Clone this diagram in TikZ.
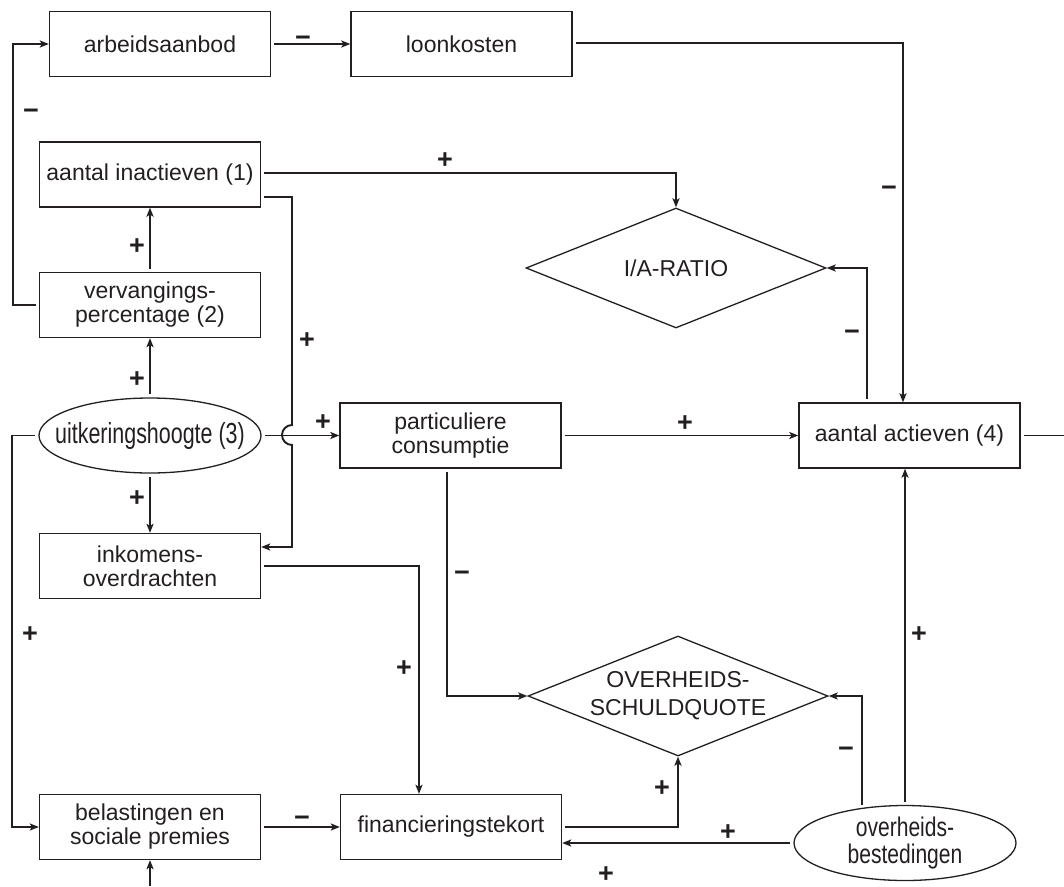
\documentclass[tikz,border=0pt]{standalone}
\usepackage{fontspec}
\setmainfont{Liberation Sans}
\newfontfamily\narrowfont[FakeStretch=0.74]{Liberation Sans}
\newfontfamily\narrowfontb[FakeStretch=0.78]{Liberation Sans}
\usetikzlibrary{shapes.geometric,arrows.meta}
\definecolor{ink}{RGB}{35,31,32}
\tikzset{
  box/.style={draw=ink, text=ink, line width=1.3pt, minimum width=221pt, minimum height=65pt,
    align=center, inner sep=0pt, font=\fontsize{23}{24}\selectfont},
  oval/.style={draw=ink, text=ink, ellipse, line width=1.3pt, minimum width=222pt, minimum height=75pt,
    inner xsep=-40pt, inner ysep=-8pt, align=center, font=\narrowfont\fontsize{29}{25}\selectfont},
  ruit/.style={draw=ink, text=ink, diamond, aspect=2.5, line width=1.3pt, minimum width=300pt, minimum height=120pt,
    inner sep=0pt, align=center, font=\fontsize{23}{28}\selectfont},
  conn/.style={draw=ink, line width=1.9pt, shorten <=3pt},
  arr/.style={conn, -{Stealth[length=9pt,width=7pt,inset=2pt]}},
  sign/.style={text=ink, inner sep=0pt, anchor=base, yshift=-9pt, font=\bfseries\fontsize{27}{27}\selectfont}
}
\begin{document}
\begin{tikzpicture}[x=1pt,y=-1pt]
\useasboundingbox (0,0) rectangle (1064,886);
% nodes
\node[box] (arb) at (160,44) {arbeidsaanbod};
\node[box] (loon) at (461.5,44) {loonkosten};
\node[box] (inact) at (150,174.5) {aantal inactieven (1)};
\node[box] (verv) at (150,305) {vervangings-\\percentage (2)};
\node[oval] (uitk) at (150,435.5) {uitkeringshoogte (3)};
\node[box] (inkom) at (150,566) {inkomens-\\overdrachten};
\node[box] (belast) at (150,827) {belastingen en\\sociale premies};
\node[box] (part) at (450.5,435.5) {particuliere\\consumptie};
\node[box] (fin) at (451,827) {financieringstekort};
\node[box] (act) at (909.5,435.5) {aantal actieven (4)};
\node[ruit] (ia) at (676,268) {I/A-RATIO};
\node[ruit] (os) at (678,696) {OVERHEIDS-\\SCHULDQUOTE};
\node[oval, font=\narrowfontb\fontsize{27}{27}\selectfont] (ovb) at (905,843) {overheids-\\bestedingen};
\coordinate (rEdge) at (1064,435.5);
\coordinate (bEdge) at (150,886);
% connectors
\draw[arr] (arb) -- (loon);
\draw[arr] (verv.west) -- ++(-26,0) |- (arb.west);
\draw[arr] (verv) -- (inact);
\draw[arr] (uitk) -- (verv);
\draw[arr] (uitk) -- (inkom);
\draw[arr] ([yshift=1.5pt]inact.east) -| (ia.north);
\draw[arr] ([yshift=-22.5pt]inact.east) -- (292,197) -- (292,425)
   arc[start angle=90,end angle=270,radius=10pt] -- (292,547) -- ([yshift=19pt]inkom.east);
\draw[arr] (uitk) -- (part);
\draw[arr] (part) -- (act);
\draw[arr] ([xshift=-3.5pt]part.south) |- (os.west);
\draw[arr] ([yshift=1pt]loon.east) -| ([xshift=-6.5pt]act.north);
\draw[arr] ([xshift=-42.5pt]act.north) |- (ia.east);
\draw[conn] (act.east) -- (rEdge);
\draw[arr] (inkom.east) -| ([xshift=-32pt]fin.north);
\draw[arr] (uitk.west) -- ++(-26,0) |- (belast.west);
\draw[arr] (belast) -- (fin);
\draw[arr] (fin.east) -| (os.south);
\draw[arr] (ovb.west) -- (fin.east |- ovb.west);
\draw[arr] (ovb.north) -- (ovb.north |- act.south);
\draw[arr] (ovb.141) |- (os.east);
\draw[arr, shorten <=0pt] (bEdge) -- (belast.south);
% signs
\node[sign] (s1) at (303,37) {−};
\node[sign] (s2) at (31,110) {−};
\node[sign] (s3) at (137,245) {+};
\node[sign] (s4) at (137,378) {+};
\node[sign] (s5) at (137,497) {+};
\node[sign] (s6) at (445,159) {+};
\node[sign] (s7) at (307,339) {+};
\node[sign] (s8) at (323,421) {+};
\node[sign] (s9) at (685,422) {+};
\node[sign] (s10) at (462,572) {−};
\node[sign] (s11) at (889,187) {−};
\node[sign] (s12) at (852,331) {−};
\node[sign] (s13) at (404,667) {+};
\node[sign] (s14) at (30,633) {+};
\node[sign] (s15) at (302,817) {−};
\node[sign] (s16) at (662,787) {+};
\node[sign] (s17) at (728,831) {+};
\node[sign] (s18) at (919,633) {+};
\node[sign] (s19) at (846,748) {−};
\node[sign] (s20) at (606,873) {+};
\end{tikzpicture}
\end{document}
